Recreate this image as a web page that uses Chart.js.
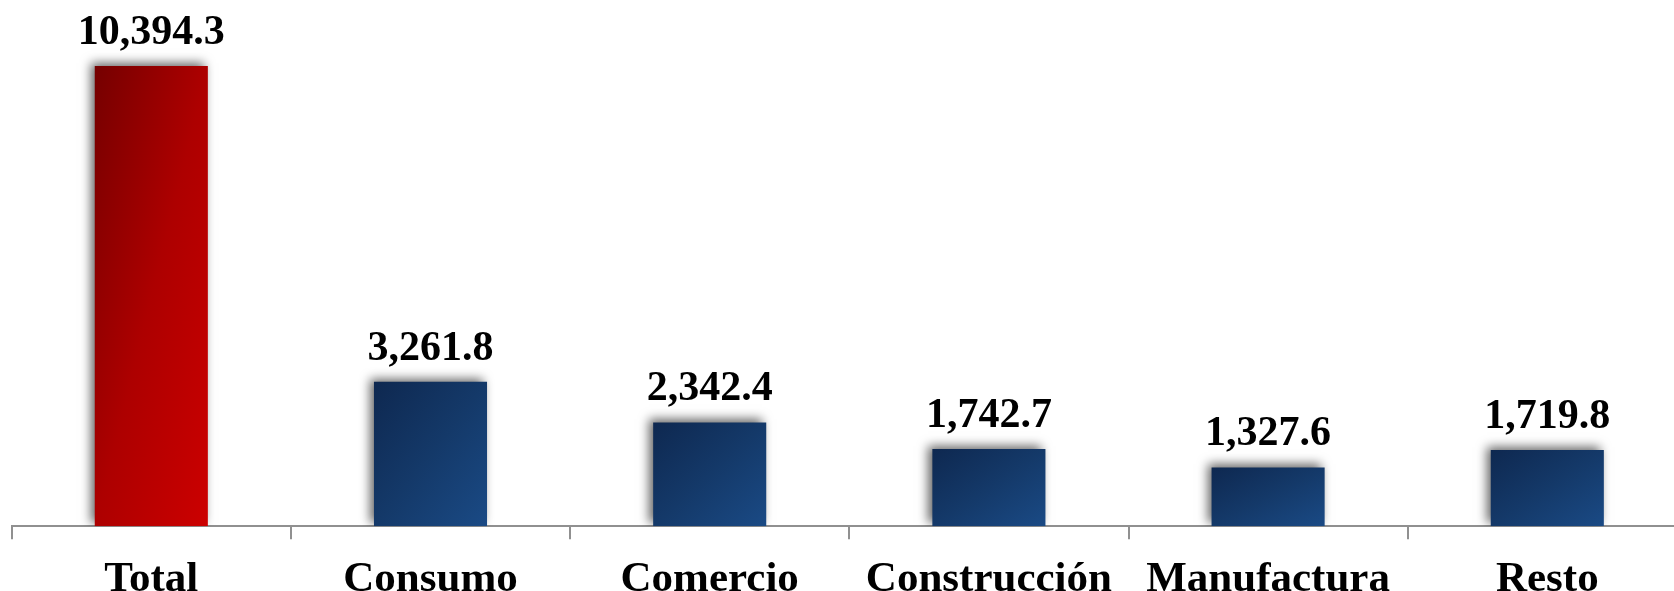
<!DOCTYPE html>
<html>
<head>
<meta charset="utf-8">
<script src="https://cdn.jsdelivr.net/npm/chart.js@4"></script>
<style>
  html, body { margin: 0; padding: 0; background: #fff; overflow: hidden; width: 1674px; height: 591px; }
  #wrap { position: absolute; left: 0; top: 0; width: 1700px; height: 620px; }
</style>
</head>
<body>
<div id="wrap"><canvas id="c" width="1700" height="620"></canvas></div>
<script>
const categories = ["Total", "Consumo", "Comercio", "Construcción", "Manufactura", "Resto"];
const values = [10394.3, 3261.8, 2342.4, 1742.7, 1327.6, 1719.8];
const valueLabels = ["10,394.3", "3,261.8", "2,342.4", "1,742.7", "1,327.6", "1,719.8"];

const FONT = '"Liberation Serif", "Times New Roman", serif';
const BAR_PCT = 0.405;

function barGradient(ctx) {
  const chart = ctx.chart;
  const isTotal = ctx.dataIndex === 0;
  const stops = isTotal
    ? ["#750000", "#ad0000", "#cc0000"]
    : ["#0e2850", "#143969", "#1a4a85"];
  const xs = chart.scales.x, ys = chart.scales.y;
  if (!chart.chartArea || !xs || !ys) return stops[1];
  const cx = xs.getPixelForValue(ctx.dataIndex);
  const w = BAR_PCT * (xs.width / categories.length);
  const left = cx - w / 2;
  const top = ys.getPixelForValue(values[ctx.dataIndex]);
  const h = ys.getPixelForValue(0) - top;
  if (!(h > 0)) return stops[1];
  const k = 2 * w * h / (h * h + w * w);
  const g = chart.ctx.createLinearGradient(left, top, left + h * k, top + w * k);
  g.addColorStop(0, stops[0]);
  g.addColorStop(0.5, stops[1]);
  g.addColorStop(1, stops[2]);
  return g;
}

const shadowPlugin = {
  id: 'shadow',
  beforeDatasetsDraw(chart) {
    const c = chart.ctx;
    c.save();
    c.shadowColor = 'rgba(0,0,0,0.6)';
    c.shadowBlur = 10;
    c.shadowOffsetX = -4;
    c.shadowOffsetY = -3;
  },
  afterDatasetsDraw(chart) {
    const c = chart.ctx;
    c.restore();
    const meta = chart.getDatasetMeta(0);
    c.save();
    c.font = 'bold 42px ' + FONT;
    c.fillStyle = '#000';
    c.textAlign = 'center';
    c.textBaseline = 'alphabetic';
    meta.data.forEach((bar, i) => {
      c.fillText(valueLabels[i], bar.x, bar.y - 22);
    });
    c.restore();
  }
};

new Chart(document.getElementById('c'), {
  type: 'bar',
  data: {
    labels: categories,
    datasets: [{
      data: values,
      backgroundColor: barGradient,
      borderWidth: 0,
      categoryPercentage: 1,
      barPercentage: BAR_PCT
    }]
  },
  options: {
    responsive: false,
    animation: false,
    events: [],
    layout: { padding: { top: 39.2, left: 11.7, right: 13.1, bottom: 0 } },
    plugins: { legend: { display: false }, tooltip: { enabled: false } },
    scales: {
      x: {
        grid: { display: true, drawOnChartArea: false, drawTicks: true, tickLength: 13, color: '#909090', lineWidth: 2, offset: true },
        border: { display: true, color: '#909090', width: 2 },
        ticks: { color: '#000', padding: 14.6, maxRotation: 0, autoSkip: false, font: { family: FONT, size: 43, weight: 'bold', lineHeight: 1.2 } }
      },
      y: {
        display: false,
        min: 0,
        max: 11000
      }
    }
  },
  plugins: [shadowPlugin]
});
</script>
</body>
</html>
